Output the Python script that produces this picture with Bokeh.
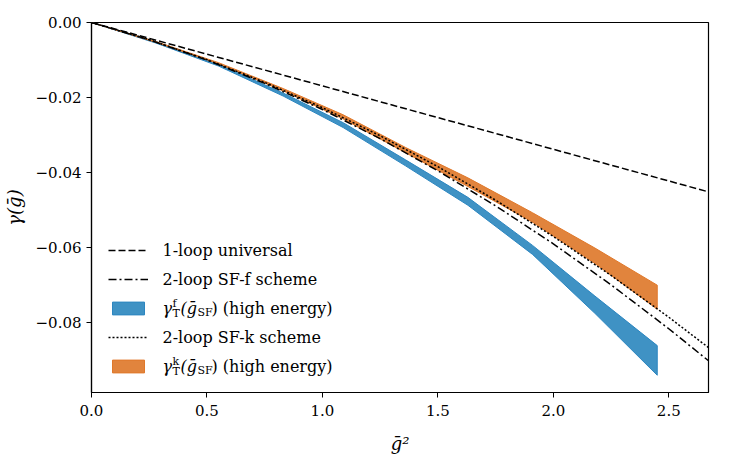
from bokeh.plotting import figure
from bokeh.models import (Range1d, FixedTicker, CustomJSTickFormatter, Legend,
                          LegendItem, Label)
from bokeh.embed import file_html
from bokeh.resources import INLINE

FONT = "DejaVu Serif"

# ---- data ----
x_1loop = [0.0, 2.8]
y_1loop = [0.0, -0.0473]

x_2loop = [0.0, 0.25, 0.5, 0.75, 1.0, 1.25, 1.5, 1.75, 2.0, 2.25, 2.5, 2.7]
y_2loop_f = [0.0, -0.00462, -0.01002, -0.01621, -0.02319, -0.03095, -0.03952,
             -0.04885, -0.05898, -0.0699, -0.08161, -0.09153]
y_2loop_k = [0.0, -0.00459, -0.0099, -0.01594, -0.0227, -0.03019, -0.03841,
             -0.04735, -0.05702, -0.06741, -0.07854, -0.08795]

x_band = [0.0, 0.28, 0.55, 0.83, 1.09, 1.36, 1.63, 1.91, 2.18, 2.45]
f_upper = [0.0, -0.0052, -0.0111, -0.0188, -0.0267, -0.0366, -0.0466, -0.0594, -0.0729, -0.0861]
f_lower = [0.0, -0.0055, -0.0116, -0.0196, -0.0280, -0.0382, -0.0487, -0.0618, -0.0775, -0.0940]
k_upper = [0.0, -0.0051, -0.0107, -0.0176, -0.0246, -0.0333, -0.0414, -0.0507, -0.0601, -0.0700]
k_lower = [0.0, -0.0053, -0.0110, -0.0182, -0.0257, -0.0347, -0.0437, -0.0532, -0.0642, -0.0764]

x_ticks = [0.0, 0.5, 1.0, 1.5, 2.0, 2.5]
y_ticks = [0.0, -0.02, -0.04, -0.06, -0.08]

p = figure(output_backend="svg", toolbar_location=None,
           frame_width=617, frame_height=370,
           min_border_left=89, min_border_right=20,
           min_border_top=22, min_border_bottom=66,
           x_range=Range1d(0.0, 2.672), y_range=Range1d(-0.0986, 0.0))
p.grid.visible = False
p.outline_line_color = "black"
p.outline_line_width = 1.2
p.background_fill_color = "white"
p.border_fill_color = "white"

for ax in (p.xaxis[0], p.yaxis[0]):
    ax.axis_line_width = 1.2
    ax.major_tick_line_width = 1.0
    ax.major_tick_out = 5
    ax.major_tick_in = 0
    ax.minor_tick_line_color = None
    ax.major_label_text_font = FONT
    ax.major_label_text_font_size = "15px"
    ax.major_label_text_color = "black"
    ax.axis_label_text_font = FONT
    ax.axis_label_text_font_size = "18px"
    ax.axis_label_text_font_style = "italic"
    ax.axis_label_text_color = "black"

p.xaxis.ticker = FixedTicker(ticks=x_ticks)
p.yaxis.ticker = FixedTicker(ticks=y_ticks)
p.xaxis.formatter = CustomJSTickFormatter(code="return tick.toFixed(1);")
p.yaxis.formatter = CustomJSTickFormatter(
    code="return tick.toFixed(2).replace('-', '\u2212');")
p.xaxis.major_label_standoff = 7
p.yaxis.major_label_standoff = 5
p.xaxis.axis_label = "g\u0304\u00b2"
p.yaxis.axis_label = "\u03b3(g\u0304)"
p.xaxis.axis_label_standoff = 14
p.yaxis.axis_label_standoff = 8

BLUE_FILL = "#3f92c4"
BLUE_EDGE = "#2c86c0"
ORANGE_FILL = "#e1843d"
ORANGE_EDGE = "#e0782a"

r_f = p.patch(x_band + x_band[::-1], f_upper + f_lower[::-1],
              fill_color=BLUE_FILL, line_color=BLUE_EDGE, line_width=1)
r_k = p.patch(x_band + x_band[::-1], k_upper + k_lower[::-1],
              fill_color=ORANGE_FILL, line_color=ORANGE_EDGE, line_width=1)

r1 = p.line(x_1loop, y_1loop, line_color="black", line_width=1.5, line_dash="7 3")
r2f = p.line(x_2loop, y_2loop_f, line_color="black", line_width=1.5,
             line_dash="8 3 2 3")
r2k = p.line(x_2loop, y_2loop_k, line_color="black", line_width=1.5,
             line_dash="2 2")

legend = Legend(items=[
    LegendItem(label=" ", renderers=[r1]),
    LegendItem(label=" ", renderers=[r2f]),
    LegendItem(label=" ", renderers=[r_f]),
    LegendItem(label=" ", renderers=[r2k]),
    LegendItem(label=" ", renderers=[r_k]),
], location=(17, 16))
legend.background_fill_alpha = 0
legend.border_line_color = None
legend.padding = 0
legend.margin = 0
legend.glyph_width = 40
legend.glyph_height = 16
legend.label_height = 20
legend.spacing = 9
legend.label_standoff = 15
legend.label_text_font_size = "14px"
p.add_layout(legend)

# legend texts (screen units)
row_y = [142, 113, 84, 55, 26]
def lab(x, y, t, size="16px", style="normal", base="middle"):
    p.add_layout(Label(x=x, y=y, x_units="screen", y_units="screen", text=t,
                       text_font=FONT, text_font_size=size,
                       text_font_style=style, text_baseline=base,
                       text_color="black"))

lab(71, row_y[0], "1-loop universal")
lab(71, row_y[1], "2-loop SF-f scheme")
lab(71, row_y[3], "2-loop SF-k scheme")
for y, sup in ((row_y[2], "f"), (row_y[4], "k")):
    lab(71, y, "\u03b3", style="italic")
    lab(81, y + 5, sup, size="11px")
    lab(81, y - 5, "T", size="11px")
    lab(89, y, "(g\u0304", style="italic")
    lab(106, y - 4, "SF", size="11px")
    lab(120, y, ") (high energy)")

open("out.html", "w").write(file_html(p, INLINE))
